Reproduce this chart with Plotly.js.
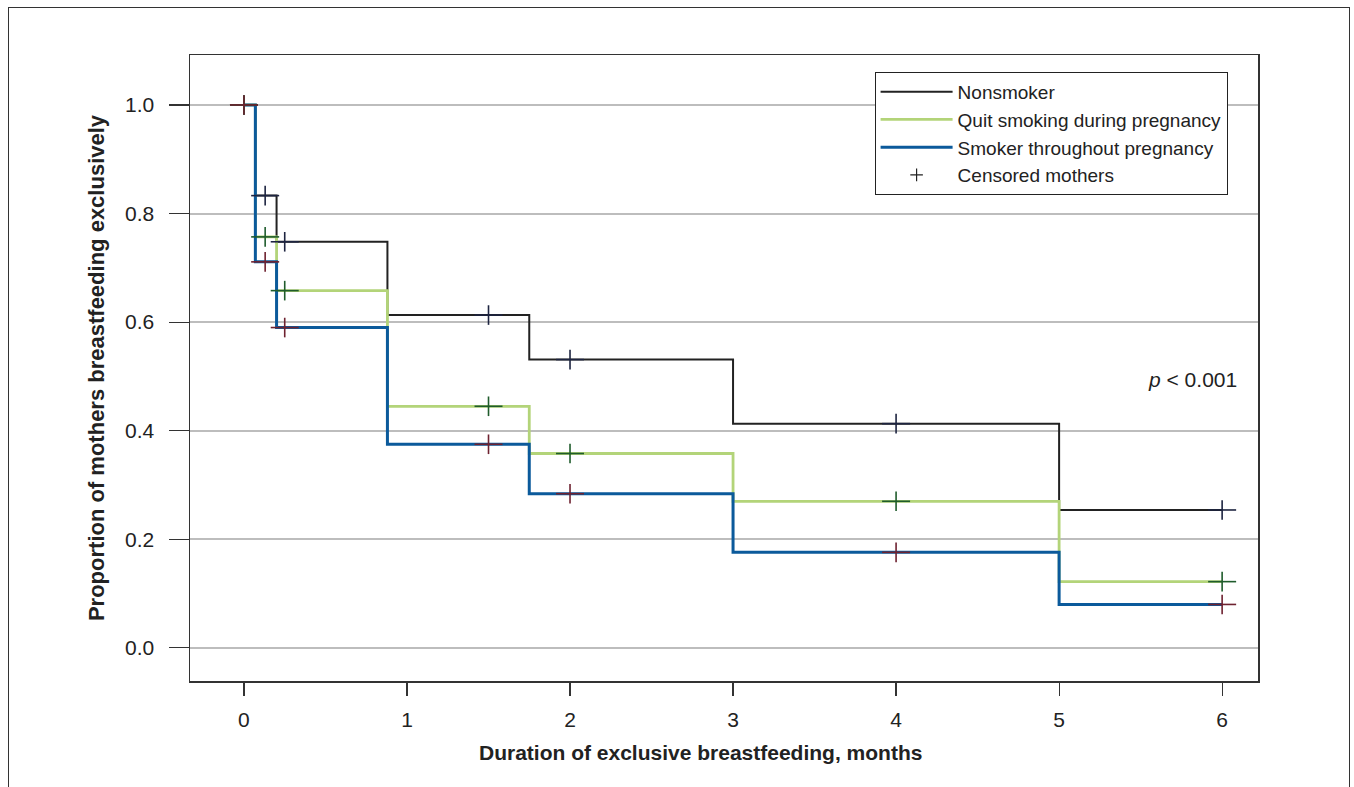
<!DOCTYPE html>
<html>
<head>
<meta charset="utf-8">
<script src="https://cdn.plot.ly/plotly-3.0.1.min.js"></script>
<style>
  html, body { margin: 0; padding: 0; background: #fff; }
  #wrap { position: relative; width: 1354px; height: 787px; }
  #chart { width: 1354px; height: 787px; }
  #frame { position: absolute; left: 8px; top: 7px; width: 1342px; height: 790px;
           border: 1.5px solid #333; box-sizing: border-box; pointer-events: none; }
</style>
</head>
<body>
<div id="wrap">
  <div id="chart"></div>
  <div id="frame"></div>
</div>
<script>
// Kaplan-Meier step data (months, proportion)
const stepTimes      = [0, 0.07, 0.2, 0.88, 1.75, 3, 5, 6];
const nonsmokerSurv  = [1.0, 0.833, 0.748, 0.613, 0.531, 0.413, 0.254, 0.254];
const quitSurv       = [1.0, 0.757, 0.658, 0.445, 0.358, 0.270, 0.122, 0.122];
const smokerSurv     = [1.0, 0.711, 0.590, 0.375, 0.284, 0.176, 0.080, 0.080];

// Censored mothers
const censorTimes      = [0, 0.13, 0.25, 1.5, 2, 4, 6];
const nonsmokerCensor  = [1.0, 0.833, 0.748, 0.613, 0.531, 0.413, 0.254];
const quitCensor       = [1.0, 0.757, 0.658, 0.445, 0.358, 0.270, 0.122];
const smokerCensor     = [1.0, 0.711, 0.590, 0.375, 0.284, 0.176, 0.080];

const seriesNames = ["Nonsmoker", "Quit smoking during pregnancy", "Smoker throughout pregnancy"];
const xTicks = [0, 1, 2, 3, 4, 5, 6];
const yTicks = [0.0, 0.2, 0.4, 0.6, 0.8, 1.0];
const yTickText = ["0.0", "0.2", "0.4", "0.6", "0.8", "1.0"];

const lineColors = ["#222222", "#b3d479", "#0b5a9b"];
const lineWidths = [2, 2.8, 3];
const censorColors = ["#1d2440", "#1f5c2c", "#6e2230"];

const survs = [nonsmokerSurv, quitSurv, smokerSurv];
const censors = [nonsmokerCensor, quitCensor, smokerCensor];

const traces = [];
survs.forEach((s, i) => {
  traces.push({
    type: "scatter", mode: "lines", x: stepTimes, y: s,
    name: seriesNames[i],
    line: { color: lineColors[i], width: lineWidths[i], shape: "hv" },
    hoverinfo: "x+y"
  });
});
censors.forEach((c, i) => {
  traces.push({
    type: "scatter", mode: "markers", x: censorTimes, y: c, showlegend: false,
    marker: { symbol: "line-ew", size: 20, line: { color: censorColors[i], width: 1.6 } },
    hoverinfo: "skip"
  });
  traces.push({
    type: "scatter", mode: "markers", x: censorTimes, y: c, showlegend: false,
    marker: { symbol: "line-ns", size: 14, line: { color: censorColors[i], width: 1.6 } },
    hoverinfo: "skip"
  });
});
traces.push({
  type: "scatter", mode: "markers", x: [null], y: [null], name: "Censored mothers",
  marker: { symbol: "cross-thin", size: 9, line: { color: "#222", width: 1.2 } }
});

const font = "Liberation Sans, Arial, Helvetica, sans-serif";

const layout = {
  width: 1354, height: 787,
  margin: { l: 190, r: 96, t: 55, b: 106 },
  paper_bgcolor: "#fff", plot_bgcolor: "#fff",
  font: { family: font, size: 19, color: "#222" },
  showlegend: true,
  legend: {
    x: 0.641, y: 0.973, xanchor: "left", yanchor: "top",
    bordercolor: "#222", borderwidth: 1, bgcolor: "#fff",
    font: { family: font, size: 19, color: "#222" },
    tracegroupgap: 0, itemwidth: 72
  },
  xaxis: {
    range: [-0.331, 6.22], tickvals: xTicks, ticktext: xTicks.map(String),
    ticks: "outside", ticklen: 13, tickwidth: 1.2, tickcolor: "#333",
    showline: true, linecolor: "#333", linewidth: 1.5, mirror: true,
    showgrid: false, zeroline: false, ticklabelstandoff: 6,
    tickfont: { family: font, size: 21, color: "#222" }
  },
  yaxis: {
    range: [-0.061, 1.092], tickvals: yTicks, ticktext: yTickText,
    ticks: "outside", ticklen: 20, tickwidth: 1.2, tickcolor: "#333",
    showline: true, linecolor: "#333", linewidth: 1.5, mirror: true,
    showgrid: true, gridcolor: "#bdbdbd", gridwidth: 2, zeroline: false,
    ticklabelstandoff: 10,
    tickfont: { family: font, size: 21, color: "#222" },
    title: { text: "<b>Proportion of mothers breastfeeding exclusively</b>", font: { family: font, size: 22, color: "#222" }, standoff: 14 }
  },
  annotations: [{
    xref: "paper", yref: "y", x: 0.982, y: 0.495, xanchor: "right", yanchor: "middle",
    text: "<i>p</i> < 0.001", showarrow: false, font: { family: font, size: 21, color: "#222" }
  }, {
    xref: "paper", yref: "paper", x: 0.478, y: -0.115, xanchor: "center", yanchor: "middle",
    text: "<b>Duration of exclusive breastfeeding, months</b>", showarrow: false,
    font: { family: font, size: 21, color: "#222" }
  }]
};

Plotly.newPlot("chart", traces, layout, { displayModeBar: false, staticPlot: true });
</script>
</body>
</html>
